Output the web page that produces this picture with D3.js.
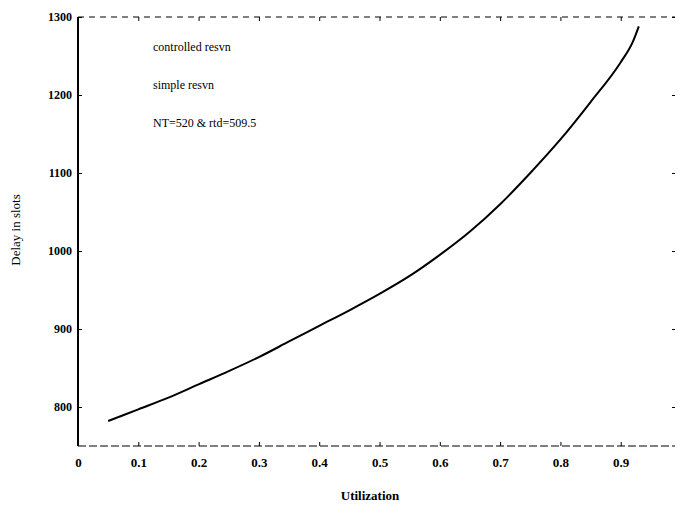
<!DOCTYPE HTML>
<html>
<head>
<meta charset="utf-8">
<script type="text/javascript" src="https://d3js.org/d3.v7.min.js"></script>
<style>
  body { margin: 0; background: #fff; }
  text { font-family: "Liberation Serif", "DejaVu Serif", serif; fill: #000; }
</style>
</head>
<body>
<div id="chart"></div>
<script type="text/javascript">
// curve
var util = [0.05, 0.10, 0.15, 0.20, 0.25, 0.30, 0.35, 0.40, 0.45, 0.50, 0.55, 0.60, 0.65, 0.70, 0.75, 0.80, 0.85, 0.90, 0.92, 0.93];
var delay = [782, 797, 812, 829, 846, 864, 884, 904, 924, 945, 968, 995, 1025, 1060, 1100, 1143, 1191, 1242, 1268, 1288];
var xTicks = [0, 0.1, 0.2, 0.3, 0.4, 0.5, 0.6, 0.7, 0.8, 0.9];
var xTickLabels = ["0", "0.1", "0.2", "0.3", "0.4", "0.5", "0.6", "0.7", "0.8", "0.9"];
var yTicks = [800, 900, 1000, 1100, 1200, 1300];
var legendLines = ["controlled resvn", "simple resvn", "NT=520 & rtd=509.5"];

var W = 678, H = 508;
var m = {left: 78, right: 3, top: 17, bottom: 62};

var svg = d3.select("#chart").append("svg").attr("width", W).attr("height", H);

var x = d3.scaleLinear().domain([0, 0.99]).range([m.left, W - m.right]);
var y = d3.scaleLinear().domain([750, 1300]).range([H - m.bottom, m.top]);

// frame: left solid, top/bottom broken like the scan, right only ticks
svg.append("line").attr("x1", m.left).attr("x2", m.left).attr("y1", m.top).attr("y2", H - m.bottom)
  .attr("stroke", "#000").attr("stroke-width", 2);
svg.append("line").attr("x1", m.left).attr("x2", W - m.right).attr("y1", m.top).attr("y2", m.top)
  .attr("stroke", "#000").attr("stroke-width", 1).attr("stroke-dasharray", "6,5");
svg.append("line").attr("x1", m.left).attr("x2", W - m.right).attr("y1", H - m.bottom).attr("y2", H - m.bottom)
  .attr("stroke", "#000").attr("stroke-width", 1).attr("stroke-dasharray", "8,3");

var xAxis = d3.axisBottom(x).tickValues(xTicks).tickSize(-4).tickPadding(12)
  .tickFormat(function(d, i) { return xTickLabels[i]; });
svg.append("g").attr("transform", "translate(0," + (H - m.bottom) + ")").call(xAxis)
  .call(function(g) { g.select(".domain").remove(); })
  .call(function(g) { g.selectAll("text").style("font-size", "13px").style("font-weight", "bold"); });

svg.append("g").attr("transform", "translate(0," + m.top + ")")
  .call(d3.axisTop(x).tickValues(xTicks).tickSize(-4).tickFormat(""))
  .call(function(g) { g.select(".domain").remove(); });

var yAxis = d3.axisLeft(y).tickValues(yTicks).tickSize(-4).tickPadding(6).tickFormat(d3.format("d"));
svg.append("g").attr("transform", "translate(" + m.left + ",0)").call(yAxis)
  .call(function(g) { g.select(".domain").remove(); })
  .call(function(g) { g.selectAll("text").style("font-size", "12px").style("font-weight", "bold"); });

svg.append("g").attr("transform", "translate(" + (W - m.right) + ",0)")
  .call(d3.axisRight(y).tickValues(yTicks).tickSize(-3).tickFormat(""))
  .call(function(g) { g.select(".domain").remove(); });

// curve
var line = d3.line().x(function(d, i) { return x(util[i]); }).y(function(d) { return y(d); }).curve(d3.curveMonotoneX);
svg.append("path").datum(delay).attr("d", line)
  .attr("fill", "none").attr("stroke", "#000").attr("stroke-width", 2);

// legend text (line samples lost in the scan)
svg.selectAll(".leg").data(legendLines).enter().append("text")
  .attr("class", "leg")
  .attr("x", 153).attr("y", function(d, i) { return 51 + i * 38; })
  .style("font-size", "12px")
  .text(function(d) { return d; });

svg.append("text").attr("x", 370).attr("y", 500).attr("text-anchor", "middle")
  .style("font-size", "13px").style("font-weight", "bold").text("Utilization");

svg.append("text").attr("transform", "translate(20,230) rotate(-90)").attr("text-anchor", "middle")
  .style("font-size", "13px").text("Delay in slots");
</script>
</body>
</html>
